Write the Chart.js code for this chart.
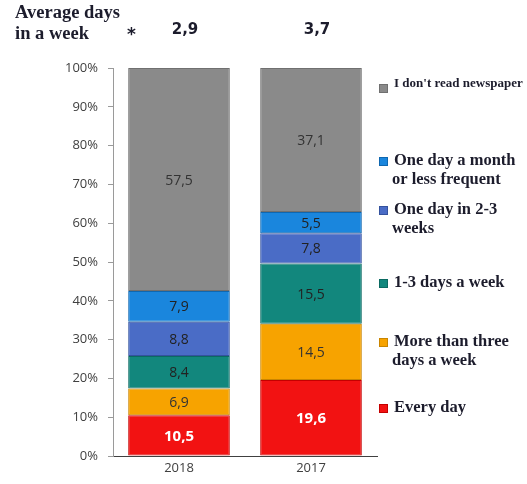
<!DOCTYPE html>
<html>
<head>
<meta charset="utf-8">
<script src="https://cdn.jsdelivr.net/npm/chart.js@4"></script>
<style>
  html, body { margin: 0; padding: 0; background: #fff; }
  #wrap { width: 527px; height: 484px; }
</style>
</head>
<body>
<div id="wrap"><canvas id="chart" width="527" height="484"></canvas></div>
<script>
    const years = ['2018', '2017'];
    const averageDays = ['2,9', '3,7'];

    const seriesNames = [
        'Every day',
        'More than three days a week',
        '1-3 days a week',
        'One day in 2-3 weeks',
        'One day a month or less frequent',
        "I don't read newspaper"
    ];
    // legend lines as printed next to the plot
    const legendLines = [
        ['Every day'],
        ['More than three', 'days a week'],
        ['1-3 days a week'],
        ['One day in 2-3', 'weeks'],
        ['One day a month', 'or less frequent'],
        ["I don't read newspaper"]
    ];

    const everyDay = [10.5, 19.6];
    const moreThanThree = [6.9, 14.5];
    const oneToThree = [8.4, 15.5];
    const oneIn2to3Weeks = [8.8, 7.8];
    const oneMonthOrLess = [7.9, 5.5];
    const dontRead = [57.5, 37.1];

    const yTicks = [0, 10, 20, 30, 40, 50, 60, 70, 80, 90, 100];

    const colors = ['#f21212', '#f7a300', '#12877d', '#4a6cc6', '#1a86dd', '#8a8a8a'];
    const borders = ['#c40000', '#c98500', '#0b6a62', '#34529e', '#0f67b0', '#707070'];
    const labelColors = ['#ffffff', '#333333', '#222222', '#222222', '#222222', '#333333'];

    // legend placement (y of first line, px)
    const legendY = [408, 342, 283, 210, 161, 88];

    const allSeries = [everyDay, moreThanThree, oneToThree, oneIn2to3Weeks, oneMonthOrLess, dontRead];

    const valueLabels = {
        id: 'valueLabels',
        afterDatasetsDraw(chart) {
            const ctx = chart.ctx;
            ctx.save();
            ctx.textAlign = 'center';
            ctx.textBaseline = 'middle';
            chart.data.datasets.forEach((ds, i) => {
                chart.getDatasetMeta(i).data.forEach((bar, j) => {
                    const v = ds.data[j];
                    ctx.fillStyle = labelColors[i];
                    ctx.font = (i === 0 ? 'bold 15px' : '14px') + ' "Open Sans", sans-serif';
                    const y = (bar.y + bar.base) / 2;
                    ctx.fillText(v.toFixed(1).replace('.', ','), bar.x, y + 1);
                });
            });
            ctx.restore();
        }
    };

    const sideText = {
        id: 'sideText',
        afterDraw(chart) {
            const ctx = chart.ctx;
            ctx.save();
            ctx.fillStyle = '#1c1c2c';
            ctx.textBaseline = 'middle';
            ctx.textAlign = 'left';
            ctx.font = 'bold 18.5px "Liberation Serif", serif';
            ctx.fillText('Average days', 15, 13);
            ctx.fillText('in a week', 15, 34);
            ctx.font = 'bold 17px "DejaVu Sans", sans-serif';
            ctx.fillText('*', 127, 36);
            const meta = chart.getDatasetMeta(0);
            ctx.textAlign = 'center';
            ctx.font = 'bold 15px "DejaVu Sans", sans-serif';
            meta.data.forEach((bar, j) => {
                ctx.fillText(averageDays[j], bar.x + 6, 30);
            });

            // legend
            ctx.textAlign = 'left';
            legendLines.forEach((lines, i) => {
                const y0 = legendY[i];
                ctx.fillStyle = colors[i];
                ctx.fillRect(379, y0 - 4, 9, 9);
                ctx.strokeStyle = borders[i];
                ctx.lineWidth = 1;
                ctx.strokeRect(379.5, y0 - 3.5, 8, 8);
                ctx.fillStyle = '#1c1c2c';
                ctx.font = (i === 5 ? 'bold 13px' : 'bold 16.5px') + ' "Liberation Serif", serif';
                lines.forEach((t, k) => {
                    ctx.fillText(t, k === 0 ? 394 : 392, y0 + k * 19 + (i === 5 ? -4 : 0));
                });
            });
            ctx.restore();
        }
    };

    const ctx = document.getElementById('chart').getContext('2d');
    const myChart = new Chart(ctx, {
        type: 'bar',
        data: {
            labels: years,
            datasets: allSeries.map((d, i) => ({
                label: seriesNames[i],
                data: d,
                backgroundColor: colors[i],
                borderColor: borders[i],
                borderWidth: 1,
                borderSkipped: false,
                barPercentage: 0.77,
                categoryPercentage: 1
            }))
        },
        options: {
            responsive: false,
            animation: false,
            events: [],
            layout: { padding: { left: 43, right: 150, top: 68, bottom: 0 } },
            plugins: {
                legend: { display: false },
                tooltip: { enabled: false }
            },
            scales: {
                x: {
                    stacked: true,
                    grid: { display: false, drawTicks: false },
                    border: { color: '#404040', width: 1 },
                    ticks: {
                        color: '#404040',
                        font: { family: '"Open Sans", sans-serif', size: 13 },
                        padding: 4
                    },
                    afterFit(scale) { scale.height = 28; }
                },
                y: {
                    stacked: true,
                    min: 0,
                    max: 100,
                    afterFit(scale) { scale.width = 70; },
                    afterBuildTicks(scale) { scale.ticks = yTicks.map(v => ({ value: v })); },
                    grid: { drawOnChartArea: false, drawTicks: true, tickLength: 5, color: '#9a9a9a' },
                    border: { color: '#9a9a9a', width: 1 },
                    ticks: {
                        color: '#404040',
                        font: { family: '"Open Sans", sans-serif', size: 13 },
                        padding: 10,
                        callback: v => v + '%'
                    }
                }
            }
        },
        plugins: [valueLabels, sideText]
    });
</script>
</body>
</html>
